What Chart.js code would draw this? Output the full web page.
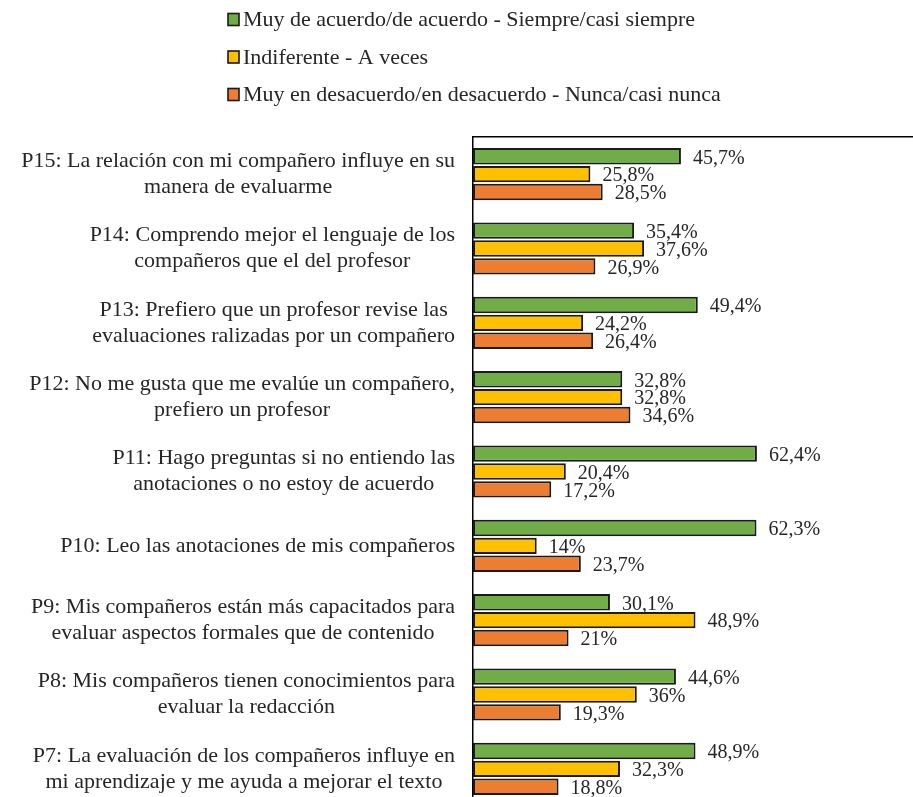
<!DOCTYPE html>
<html>
<head>
<meta charset="utf-8">
<script src="https://cdn.jsdelivr.net/npm/chart.js@4/dist/chart.umd.min.js"></script>
<style>
  html, body { margin: 0; padding: 0; background: #fff; overflow: hidden; }
  #wrap { position: relative; width: 913px; height: 806px; }
</style>
</head>
<body>
<div id="wrap"><canvas id="chart" width="913" height="806"></canvas></div>
<script>
// Survey items (top to bottom)
const categories = [
  ['P15: La relación con mi compañero influye en su', 'manera de evaluarme'],
  ['P14: Comprendo mejor el lenguaje de los', 'compañeros que el del profesor'],
  ['P13: Prefiero que un profesor revise las', 'evaluaciones ralizadas por un compañero'],
  ['P12: No me gusta que me evalúe un compañero,', 'prefiero un profesor'],
  ['P11: Hago preguntas si no entiendo las', 'anotaciones o no estoy de acuerdo'],
  ['P10: Leo las anotaciones de mis compañeros'],
  ['P9: Mis compañeros están más capacitados para', 'evaluar aspectos formales que de contenido'],
  ['P8: Mis compañeros tienen conocimientos para', 'evaluar la redacción'],
  ['P7: La evaluación de los compañeros influye en', 'mi aprendizaje y me ayuda a mejorar el texto']
];

const seriesNames = [
  'Muy de acuerdo/de acuerdo - Siempre/casi siempre',
  'Indiferente - A veces',
  'Muy en desacuerdo/en desacuerdo - Nunca/casi nunca'
];

const agreeValues = [45.7, 35.4, 49.4, 32.8, 62.4, 62.3, 30.1, 44.6, 48.9];
const neutralValues = [25.8, 37.6, 24.2, 32.8, 20.4, 14, 48.9, 36, 32.3];
const disagreeValues = [28.5, 26.9, 26.4, 34.6, 17.2, 23.7, 21, 19.3, 18.8];

const COLORS = ['#70AD47', '#FFC000', '#ED7D31'];
const SERIF = '"Liberation Serif", "Times New Roman", serif';
const TEXT_COLOR = '#262626';

function fmt(v) {
  return String(v).replace('.', ',') + '%';
}

// Category labels: block right-aligned to the axis, lines centred inside the block
const categoryLabels = {
  id: 'categoryLabels',
  afterDraw(chart) {
    const ctx = chart.ctx;
    const yScale = chart.scales.y;
    const right = chart.chartArea.left - 18;
    ctx.save();
    ctx.font = '22px ' + SERIF;
    ctx.fillStyle = TEXT_COLOR;
    ctx.textAlign = 'center';
    ctx.textBaseline = 'middle';
    const lineH = 26;
    categories.forEach((lines, i) => {
      const y = yScale.getPixelForValue(i);
      const maxW = Math.max(...lines.map(l => ctx.measureText(l).width));
      const cx = right - maxW / 2;
      lines.forEach((l, j) => {
        ctx.fillText(l, cx, y + (j - (lines.length - 1) / 2) * lineH);
      });
    });
    ctx.restore();
  }
};

// Value labels at the end of each bar
const valueLabels = {
  id: 'valueLabels',
  afterDatasetsDraw(chart) {
    const ctx = chart.ctx;
    ctx.save();
    ctx.font = '20px ' + SERIF;
    ctx.fillStyle = TEXT_COLOR;
    ctx.textAlign = 'left';
    ctx.textBaseline = 'middle';
    chart.data.datasets.forEach((ds, di) => {
      chart.getDatasetMeta(di).data.forEach((bar, i) => {
        ctx.fillText(fmt(ds.data[i]), bar.x + 12, bar.y + 2);
      });
    });
    ctx.restore();
  }
};

// Stacked legend at the top
const stackedLegend = {
  id: 'stackedLegend',
  afterDraw(chart) {
    const ctx = chart.ctx;
    ctx.save();
    ctx.font = '22px ' + SERIF;
    ctx.textAlign = 'left';
    ctx.textBaseline = 'middle';
    chart.data.datasets.forEach((ds, i) => {
      const cy = 19.5 + i * 37.5;
      ctx.fillStyle = ds.backgroundColor;
      ctx.fillRect(228, cy - 6, 11, 12);
      ctx.strokeStyle = '#1a1a1a';
      ctx.lineWidth = 1.6;
      ctx.strokeRect(228, cy - 6, 11, 12);
      ctx.fillStyle = TEXT_COLOR;
      ctx.fillText(ds.label, 243, cy + 1);
    });
    ctx.restore();
  }
};

const ctx = document.getElementById('chart').getContext('2d');
new Chart(ctx, {
  type: 'bar',
  data: {
    labels: categories.map(c => c.join(' ')),
    datasets: [
      { label: seriesNames[0], data: agreeValues, backgroundColor: COLORS[0] },
      { label: seriesNames[1], data: neutralValues, backgroundColor: COLORS[1] },
      { label: seriesNames[2], data: disagreeValues, backgroundColor: COLORS[2] }
    ].map(d => Object.assign(d, {
      borderColor: '#1a1a1a',
      borderWidth: 2,
      borderSkipped: false,
      barPercentage: 0.92,
      categoryPercentage: 0.72
    }))
  },
  options: {
    indexAxis: 'y',
    responsive: false,
    animation: false,
    devicePixelRatio: 1,
    layout: { padding: { top: 137, left: 473, right: 0, bottom: 0 } },
    plugins: {
      legend: { display: false },
      tooltip: { enabled: false }
    },
    scales: {
      x: {
        position: 'top',
        min: 0,
        max: 96.7,
        grid: { display: false, drawTicks: false },
        ticks: { display: false },
        border: { display: true, color: '#000', width: 1.5 }
      },
      y: {
        grid: { display: false, drawTicks: false },
        ticks: { display: false },
        border: { display: true, color: '#000', width: 1.5 }
      }
    }
  },
  plugins: [categoryLabels, valueLabels, stackedLegend]
});
</script>
</body>
</html>
